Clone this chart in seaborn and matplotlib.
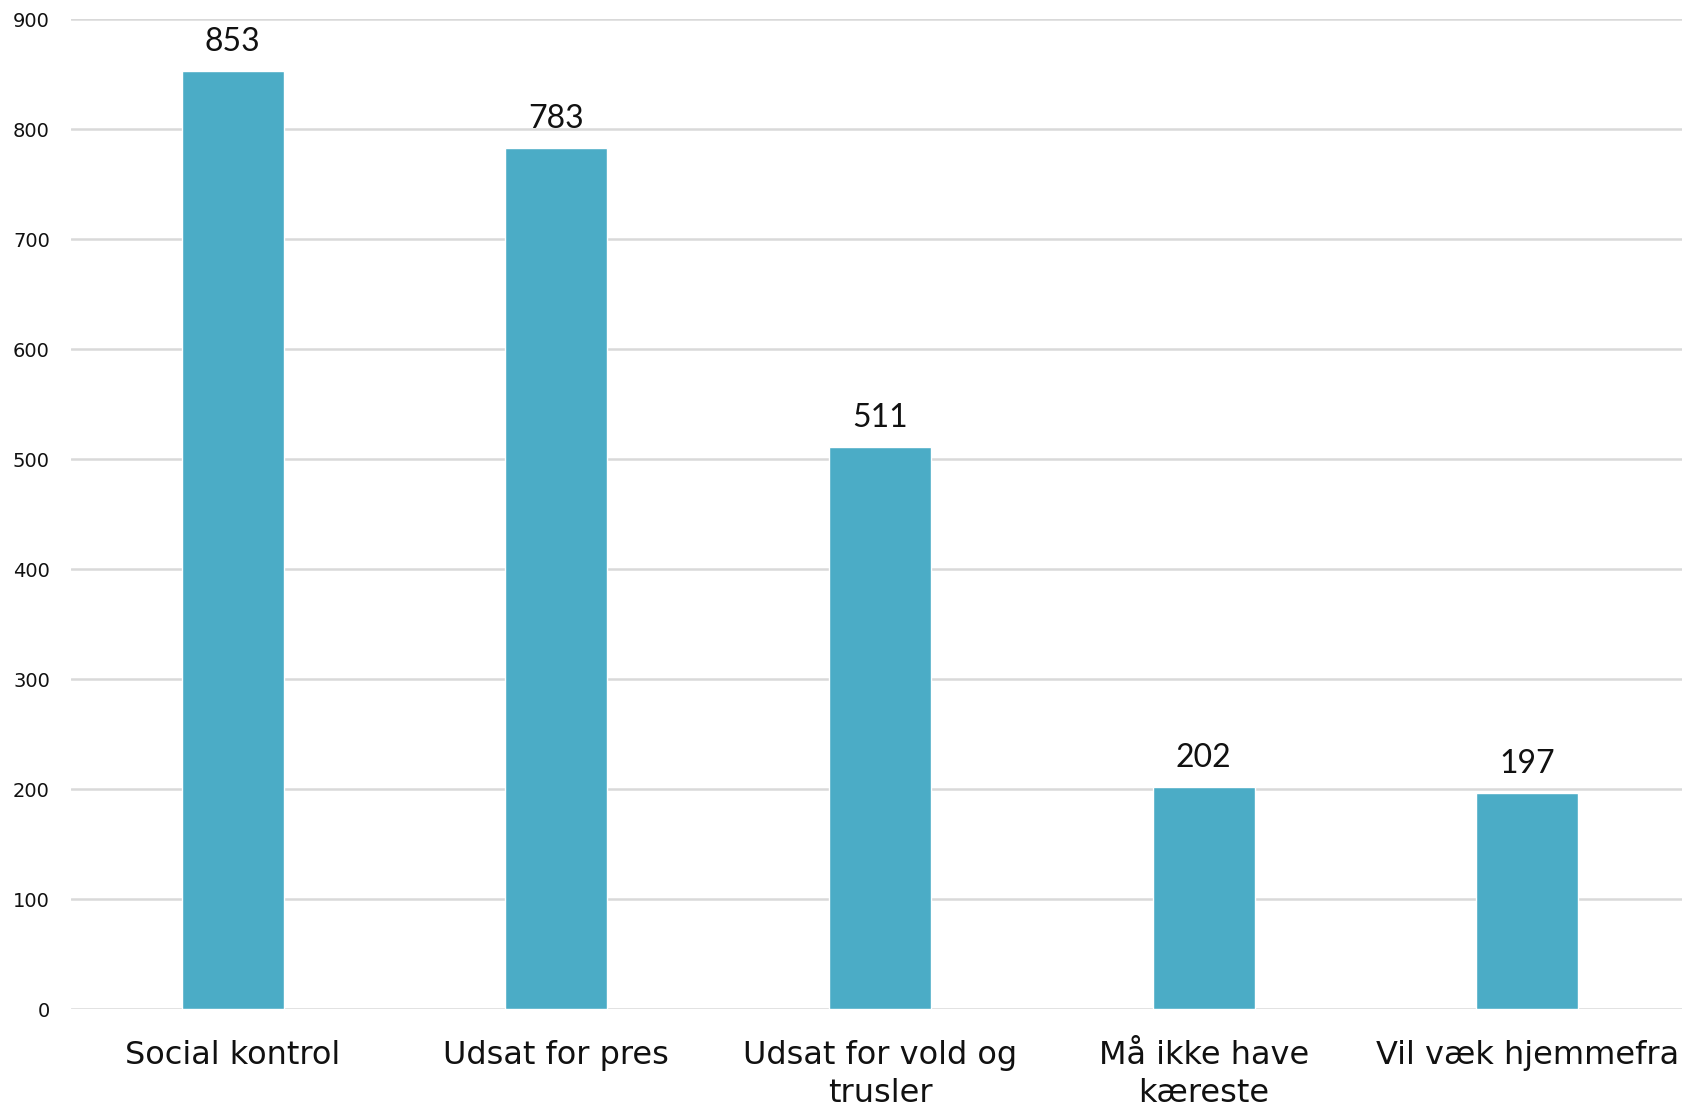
import matplotlib
matplotlib.use("Agg")
import matplotlib.pyplot as plt
import seaborn as sns
import pandas as pd

categories = ["Social kontrol", "Udsat for pres", "Udsat for vold og\ntrusler",
              "Må ikke have\nkæreste", "Vil væk hjemmefra"]
values = [853, 783, 511, 202, 197]
yticks = [0, 100, 200, 300, 400, 500, 600, 700, 800, 900]

sns.set_theme(style="white")
plt.rcParams['font.family'] = ['DejaVu Sans']

df = pd.DataFrame({"cat": categories, "val": values})

fig = plt.figure(figsize=(16.82, 11.08), dpi=100)
ax = fig.add_axes([0.0421, 0.089, 1.0043 - 0.0421, 0.9826 - 0.089])
sns.barplot(data=df, x="cat", y="val", color="#4BACC6", saturation=1,
            width=0.315, ax=ax, zorder=3)

ax.set_ylim(0, 900)
ax.set_xlim(-0.5, 4.5)
ax.set_yticks(yticks)
ax.set_yticklabels([str(t) for t in yticks], fontsize=14, color="#111111")
ax.tick_params(axis="y", length=0, pad=15)
ax.tick_params(axis="x", length=0, pad=22, labelsize=23, labelcolor="#111111")
for lab in ax.get_xticklabels():
    lab.set_linespacing(1.3)
ax.yaxis.grid(True, color="#d9d9d9", linewidth=1.8, zorder=0)
ax.xaxis.grid(False)
for s in ax.spines.values():
    s.set_visible(False)
ax.set_xlabel("")
ax.set_ylabel("")

for c in ax.containers:
    ax.bar_label(c, labels=[str(v) for v in values], padding=10,
                 fontsize=23, family=["Lato", "DejaVu Sans"], color="#111111")

fig.savefig("out.png", dpi=100)
